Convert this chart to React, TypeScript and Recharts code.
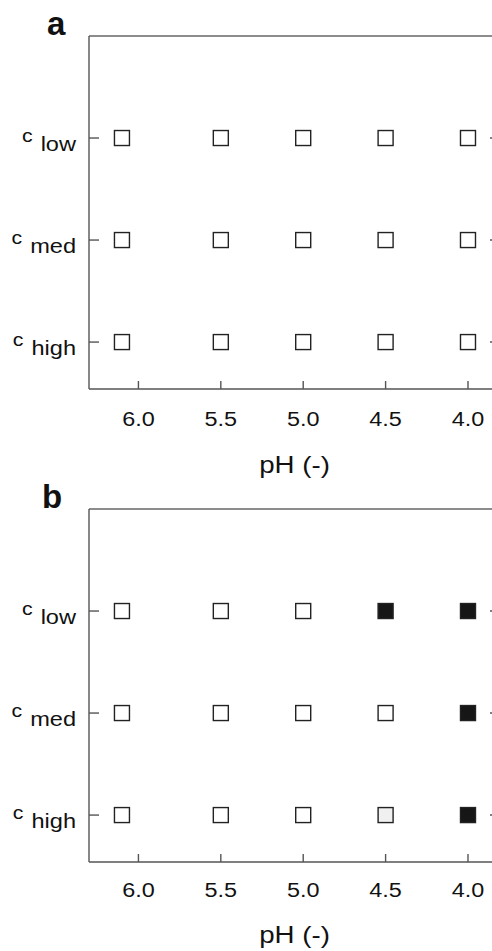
import React from 'react';
import { ScatterChart, Scatter, XAxis, YAxis, ReferenceLine } from 'recharts';

// pH of each sample column (left to right)
const phValues = [6.1, 5.5, 5.0, 4.5, 4.0];
const phTicks = [6.0, 5.5, 5.0, 4.5, 4.0];

// concentration levels (y position, label)
const levelNames = ['low', 'med', 'high'];
const levelY = [3, 2, 1];

// state per cell: 0 = open, 1 = partial (light grey), 2 = filled
const panelALow = [0, 0, 0, 0, 0];
const panelAMed = [0, 0, 0, 0, 0];
const panelAHigh = [0, 0, 0, 0, 0];

const panelBLow = [0, 0, 0, 2, 2];
const panelBMed = [0, 0, 0, 0, 2];
const panelBHigh = [0, 0, 0, 1, 2];

const FONT = '"Liberation Sans", Arial, Helvetica, sans-serif';
const AXIS = '#555';
const TEXT = '#111';
const X_DOMAIN: [number, number] = [3.83, 6.3];
const Y_DOMAIN: [number, number] = [0.54, 4];

const buildPoints = (rows: number[][]) => {
  const pts: { ph: number; y: number; state: number }[] = [];
  rows.forEach((row, i) => {
    row.forEach((state, j) => {
      pts.push({ ph: phValues[j], y: levelY[i], state });
    });
  });
  return pts;
};

const squareShape = (fill: string) => (props: any) => {
  const { cx, cy } = props;
  if (cx == null || cy == null) return <g />;
  return (
    <rect x={cx - 7.5} y={cy - 7.5} width={15} height={15} fill={fill} stroke="#222" strokeWidth={1.4} />
  );
};

const LeftTick = (props: any) => {
  const { x, y, payload } = props;
  const idx = levelY.indexOf(payload.value);
  const name = idx >= 0 ? levelNames[idx] : '';
  return (
    <g>
      <line x1={x} y1={y} x2={x + 10} y2={y} stroke={AXIS} strokeWidth={1.4} />
      <g transform={`translate(${x - 13},${y + 13}) scale(1.15,1)`}>
        <text x={0} y={0} textAnchor="end" fontFamily={FONT} fill={TEXT}>
          <tspan fontSize={18.5} dy={-9}>c</tspan>
          <tspan fontSize={20.5} dx={7} dy={9}>{name}</tspan>
        </text>
      </g>
    </g>
  );
};

const RightTick = (props: any) => {
  const { x, y } = props;
  return <line x1={x} y1={y} x2={x - 6} y2={y} stroke={AXIS} strokeWidth={1.4} />;
};

const makeBottomTick = (dyText: number) => (props: any) => {
  const { x, y, payload } = props;
  return (
    <g>
      <line x1={x} y1={y} x2={x} y2={y - 8} stroke={AXIS} strokeWidth={1.4} />
      <g transform={`translate(${x},${y + dyText}) scale(1.2,1)`}>
        <text x={0} y={0} textAnchor="middle" fontFamily={FONT} fontSize={19.5} fill={TEXT}>
          {Number(payload.value).toFixed(1)}
        </text>
      </g>
    </g>
  );
};

const makeXTitle = (dyText: number) => (props: any) => {
  const { viewBox } = props;
  if (!viewBox) return null;
  const cx = viewBox.x + viewBox.width / 2 + 2;
  return (
    <g transform={`translate(${cx},${viewBox.y + dyText}) scale(1.13,1)`}>
      <text x={0} y={0} textAnchor="middle" fontFamily={FONT} fontSize={24.5} fill={TEXT}>
        pH (-)
      </text>
    </g>
  );
};

interface PanelProps {
  letter: string;
  letterX: number;
  rows: number[][];
  top: number;
  height: number;
  marginTop: number;
  xAxisHeight: number;
  tickDy: number;
  titleDy: number;
}

const Panel: React.FC<PanelProps> = ({ letter, letterX, rows, top, height, marginTop, xAxisHeight, tickDy, titleDy }) => {
  const pts = buildPoints(rows);
  const open = pts.filter((p) => p.state === 0);
  const partial = pts.filter((p) => p.state === 1);
  const filled = pts.filter((p) => p.state === 2);
  return (
    <div style={{ position: 'absolute', left: 0, top }}>
      <ScatterChart width={500} height={height} margin={{ top: marginTop, right: 0, bottom: 0, left: 0 }}>
        <text x={letterX} y={marginTop - 1} fontFamily={FONT} fontSize={33} fontWeight="bold" fill="#111">
          {letter}
        </text>
        <XAxis
          type="number"
          dataKey="ph"
          domain={X_DOMAIN}
          reversed
          allowDataOverflow
          ticks={phTicks}
          height={xAxisHeight}
          tickSize={0}
          tickMargin={0}
          tickLine={false}
          axisLine={{ stroke: AXIS, strokeWidth: 1.4 }}
          tick={makeBottomTick(tickDy)}
          label={makeXTitle(titleDy)}
          interval={0}
        />
        <YAxis
          type="number"
          dataKey="y"
          domain={Y_DOMAIN}
          allowDataOverflow
          ticks={levelY}
          width={89}
          tickSize={0}
          tickMargin={0}
          tickLine={false}
          axisLine={{ stroke: AXIS, strokeWidth: 1.4 }}
          tick={<LeftTick />}
          interval={0}
        />
        <YAxis
          yAxisId="r"
          orientation="right"
          type="number"
          domain={Y_DOMAIN}
          allowDataOverflow
          ticks={levelY}
          width={4}
          tickSize={0}
          tickMargin={0}
          tickLine={false}
          axisLine={{ stroke: AXIS, strokeWidth: 1.4 }}
          tick={<RightTick />}
          interval={0}
        />
        <ReferenceLine y={4} stroke="#666" strokeWidth={1.6} />
        <Scatter data={open} fill="#fff" shape={squareShape('#fff')} isAnimationActive={false} />
        <Scatter data={partial} fill="#f0f0f0" shape={squareShape('#f0f0f0')} isAnimationActive={false} />
        <Scatter data={filled} fill="#161616" shape={squareShape('#161616')} isAnimationActive={false} />
      </ScatterChart>
    </div>
  );
};

const App: React.FC = () => {
  return (
    <div
      style={{
        position: 'absolute',
        top: 0,
        left: 0,
        width: 492,
        height: 951,
        overflow: 'hidden',
        background: '#fff',
      }}
    >
      <Panel
        letter="a"
        letterX={47}
        rows={[panelALow, panelAMed, panelAHigh]}
        top={0}
        height={490}
        marginTop={36}
        xAxisHeight={101}
        tickDy={37}
        titleDy={84}
      />
      <Panel
        letter="b"
        letterX={42}
        rows={[panelBLow, panelBMed, panelBHigh]}
        top={470}
        height={481}
        marginTop={39}
        xAxisHeight={89}
        tickDy={35}
        titleDy={81}
      />
    </div>
  );
};

export default App;
